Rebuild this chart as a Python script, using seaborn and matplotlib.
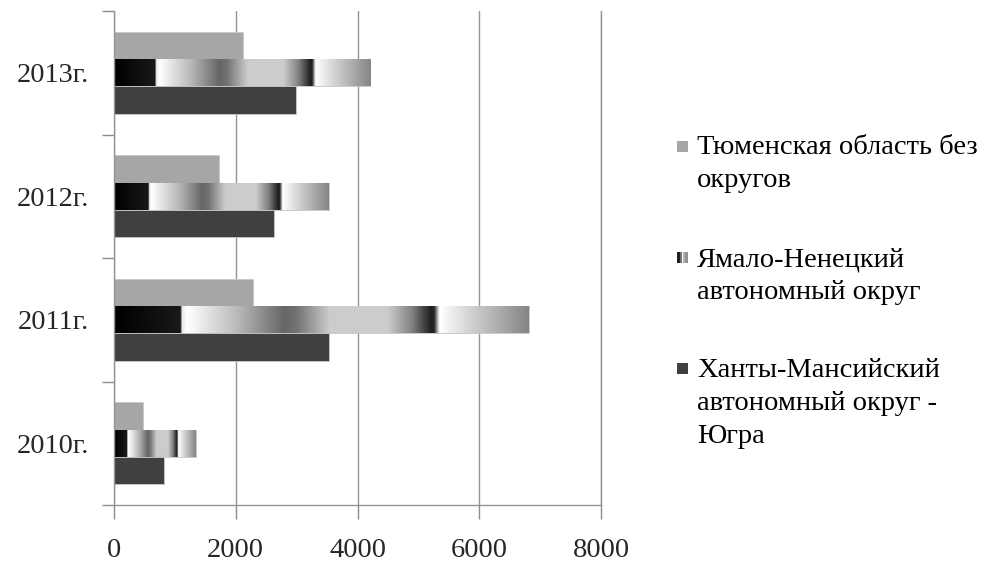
import numpy as np
import pandas as pd
import matplotlib
matplotlib.use("Agg")
import matplotlib.pyplot as plt
from matplotlib.patches import Rectangle
import seaborn as sns

years = ["2013г.", "2012г.", "2011г.", "2010г."]
series = ["Тюменская область без\nокругов",
          "Ямало-Ненецкий\nавтономный округ",
          "Ханты-Мансийский\nавтономный округ -\nЮгра"]
tyumen = [2126, 1732, 2280, 482]
yamal = [4208, 3529, 6811, 1343]
khmao = [2987, 2630, 3529, 828]

rows = []
for name, vals in zip(series, [tyumen, yamal, khmao]):
    for y, v in zip(years, vals):
        rows.append({"year": y, "series": name, "value": v})
df = pd.DataFrame(rows)

sns.set_style("white")
plt.rcParams["font.family"] = ["Liberation Serif", "DejaVu Serif"]
fs = 20.5

fig = plt.figure(figsize=(9.81, 5.64), dpi=100)
ax = fig.add_axes([114 / 981, 1 - 505 / 564, (601 - 114) / 981, (505 - 11) / 564])

palette = {series[0]: "#a6a6a6", series[1]: "#bdbdbd", series[2]: "#404040"}
sns.barplot(data=df, y="year", x="value", hue="series", order=years,
            hue_order=series, palette=palette, orient="h", width=0.665,
            saturation=1, edgecolor="#c8c8c8", linewidth=0.6, legend=False, ax=ax)

# gradient fill for the Yamal bars (Excel-style picture fill)
stops = [0.0, 0.16, 0.163, 0.175, 0.30, 0.41, 0.44, 0.52, 0.66, 0.72, 0.765, 0.772,
         0.785, 0.86, 1.0]
grays = [0.0, 0.10, 0.90, 1.0, 0.72, 0.40, 0.45, 0.80, 0.80, 0.50, 0.12, 0.15,
         1.0, 0.82, 0.52]
prof = np.interp(np.linspace(0, 1, 600), stops, grays)[None, :]
for bar in ax.containers[1]:
    x0, y0 = bar.get_x(), bar.get_y()
    w, h = bar.get_width(), bar.get_height()
    im = ax.imshow(prof, cmap="gray", vmin=0, vmax=1, aspect="auto",
                   extent=[x0, x0 + w, y0 + h, y0], zorder=bar.get_zorder() + 0.1,
                   interpolation="bilinear")
    im.set_clip_path(bar)

ax.set_xlim(0, 8000)
ax.set_ylim(3.5, -0.5)
ax.set_xticks([0, 2000, 4000, 6000, 8000])
ax.set_xticklabels(["0", "2000", "4000", "6000", "8000"], fontsize=fs)
ax.set_yticks([-0.5, 0.5, 1.5, 2.5, 3.5])
ax.set_yticklabels([])
ax.set_yticks([0, 1, 2, 3], minor=True)
ax.set_yticklabels(years, minor=True, fontsize=fs)
ax.tick_params(axis="y", which="major", length=9, width=1, color="#8c8c8c", left=True)
ax.tick_params(axis="y", which="minor", length=0, pad=18)
ax.tick_params(axis="x", length=10, width=1, color="#8c8c8c", bottom=True, pad=14)
ax.set_xlabel("")
ax.set_ylabel("")
ax.grid(axis="x", color="#959595", linewidth=1)
ax.set_axisbelow(True)
ax.spines["top"].set_visible(False)
for s in ["left", "bottom", "right"]:
    ax.spines[s].set_visible(True)
    ax.spines[s].set_color("#959595")
    ax.spines[s].set_linewidth(1)

# legend drawn beside the plot, marker aligned with first line
leg_colors = ["#a6a6a6", None, "#404040"]
first_base = [154, 266, 377]
marker_mid = [146, 257, 368]
line_step = 33
for i, name in enumerate(series):
    mx, my = 677 / 981, 1 - (marker_mid[i] + 5.5) / 564
    if leg_colors[i] is None:
        for k, c in enumerate(["#202020", "#707070", "#b0b0b0", "#909090"]):
            fig.add_artist(Rectangle((mx + k * 2.75 / 981, my), 2.75 / 981, 11 / 564,
                                     transform=fig.transFigure, color=c, lw=0))
    else:
        fig.add_artist(Rectangle((mx, my), 11 / 981, 11 / 564,
                                 transform=fig.transFigure, color=leg_colors[i], lw=0))
    for j, line in enumerate(name.split("\n")):
        fig.text(697 / 981, 1 - (first_base[i] + j * line_step) / 564, line,
                 fontsize=fs, va="baseline", ha="left", color="black")

fig.savefig("out.png", dpi=100)
